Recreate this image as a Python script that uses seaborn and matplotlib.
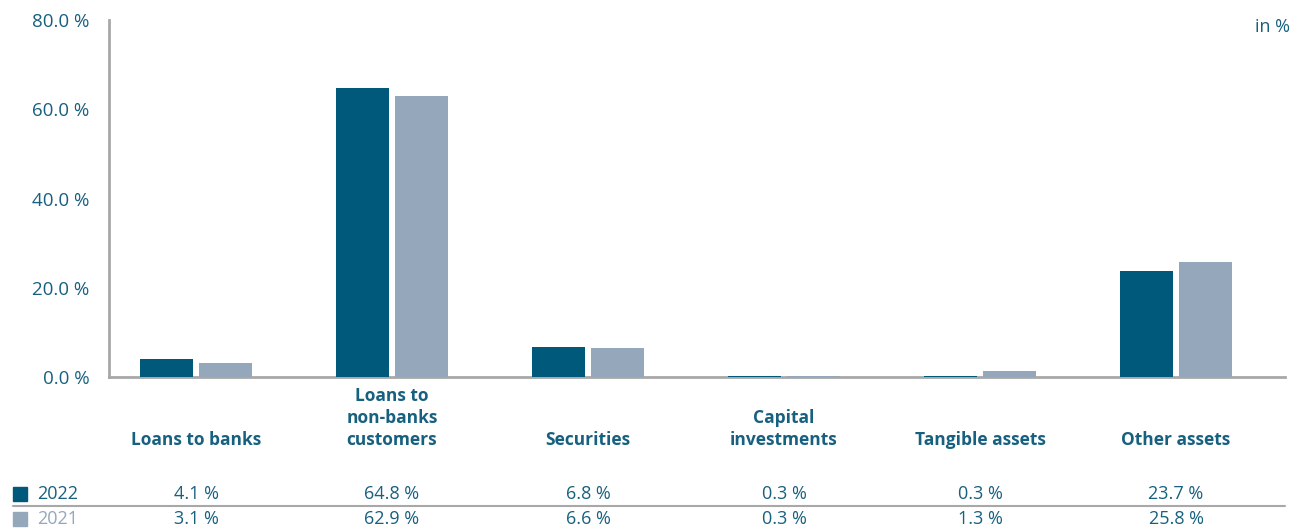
import matplotlib
matplotlib.use("Agg")
import matplotlib.pyplot as plt
import matplotlib.transforms as mtransforms
import seaborn as sns
import pandas as pd

categories = ["Loans to banks", "Loans to\nnon-banks\ncustomers", "Securities",
              "Capital\ninvestments", "Tangible assets", "Other assets"]
years = ["2022", "2021"]
values_2022 = [4.1, 64.8, 6.8, 0.3, 0.3, 23.7]
values_2021 = [3.1, 62.9, 6.6, 0.3, 1.3, 25.8]
y_ticks = [0, 20, 40, 60, 80]

dark = "#00587A"
light = "#95A7BB"
text_col = "#17607F"
grid_col = "#A8A8A8"

df = pd.DataFrame({
    "category": categories * 2,
    "year": [years[0]] * len(categories) + [years[1]] * len(categories),
    "value": values_2022 + values_2021,
})

sns.set_theme(style="white")
plt.rcParams["font.family"] = ["Open Sans", "DejaVu Sans"]

W, H = 1292, 528
fig = plt.figure(figsize=(W / 100, H / 100), dpi=100)
ax = fig.add_axes([109 / W, (H - 377) / H, 1176 / W, 357 / H])

sns.barplot(data=df, x="category", y="value", hue="year", order=categories,
            hue_order=years, palette=[dark, light], width=0.6, gap=0.1,
            dodge=True, legend=False, ax=ax, saturation=1, zorder=3,
            linewidth=0, edgecolor="none")

ax.set_xlim(-0.444, len(categories) - 0.444)
ax.set_ylim(0, 80)
ax.set_yticks(y_ticks)
ax.set_yticklabels([f"{t:.1f} %" for t in y_ticks], color=text_col, fontsize=13.5)
ax.tick_params(axis="y", length=0, pad=14)
ax.set_xticks([])
ax.set_xlabel("")
ax.set_ylabel("")
for s in ["top", "right"]:
    ax.spines[s].set_visible(False)
for s in ["left", "bottom"]:
    ax.spines[s].set_color(grid_col)
    ax.spines[s].set_linewidth(2)
    ax.spines[s].set_zorder(1)

# category labels beneath the axis, bottom-aligned
trans = mtransforms.blended_transform_factory(ax.transData, fig.transFigure)
for i, cat in enumerate(categories):
    ax.text(i, (H - 449) / H, cat, transform=trans, ha="center", va="bottom",
            fontsize=12.5, fontweight="bold", color=text_col, linespacing=1.3)

# values table
row_y = [(H - 494) / H, (H - 519) / H]
row_vals = [values_2022, values_2021]
row_cols = [dark, light]
for r in range(2):
    fig.patches.append(plt.Rectangle((13 / W, row_y[r] - 7 / H), 14 / W, 14 / H,
                                     transform=fig.transFigure, color=row_cols[r]))
    fig.text(37 / W, row_y[r], years[r], ha="left", va="center", fontsize=13,
             color=text_col if r == 0 else light)
    for i, v in enumerate(row_vals[r]):
        ax.text(i, row_y[r], f"{v:.1f} %", transform=trans, ha="center", va="center",
                fontsize=13, color=text_col)

fig.add_artist(plt.Line2D([13 / W, 1285 / W], [(H - 506) / H] * 2,
                          transform=fig.transFigure, color=grid_col, lw=1.5))

fig.text(1290 / W, (H - 27) / H, "in %", ha="right", va="center",
         fontsize=13, color=text_col)

fig.savefig("out.png", dpi=100)
